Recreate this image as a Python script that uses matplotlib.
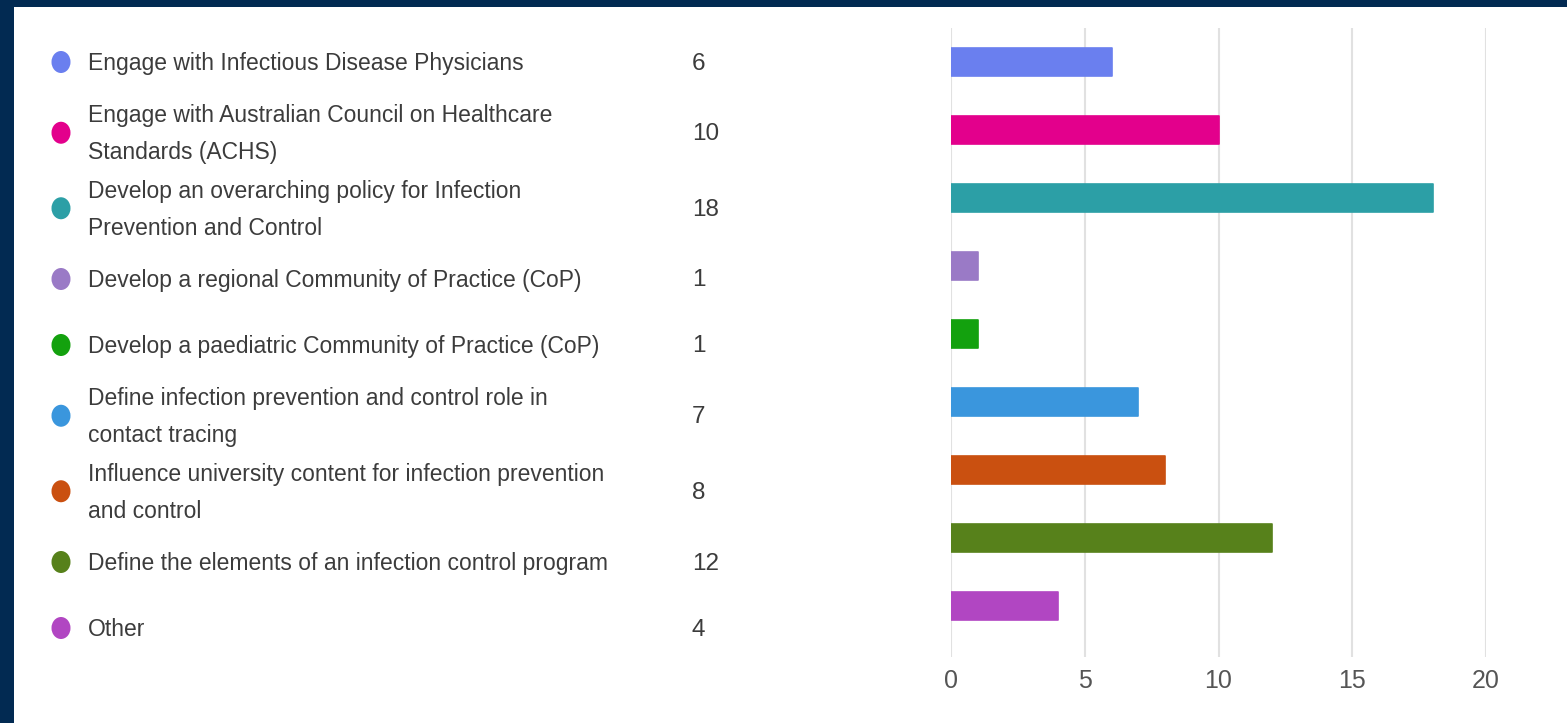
import matplotlib
matplotlib.use("Agg")
import matplotlib.pyplot as plt
from matplotlib import font_manager
from matplotlib.patches import Ellipse, Rectangle

categories = [
    "Engage with Infectious Disease Physicians",
    "Engage with Australian Council on Healthcare\nStandards (ACHS)",
    "Develop an overarching policy for Infection\nPrevention and Control",
    "Develop a regional Community of Practice (CoP)",
    "Develop a paediatric Community of Practice (CoP)",
    "Define infection prevention and control role in\ncontact tracing",
    "Influence university content for infection prevention\nand control",
    "Define the elements of an infection control program",
    "Other",
]
counts = [6, 10, 18, 1, 1, 7, 8, 12, 4]
colors = ["#6A7FEF", "#E3008C", "#2C9FA6", "#9A7AC6", "#13A10E",
          "#3A96DD", "#CA5010", "#57811B", "#B146C2"]
x_ticks = [0, 5, 10, 15, 20]

def pick_font(cands):
    for c in cands:
        try:
            font_manager.findfont(font_manager.FontProperties(family=c), fallback_to_default=False)
            return c
        except Exception:
            pass
    return "DejaVu Sans"

FONT = pick_font(["Liberation Sans Narrow", "Liberation Sans", "Open Sans"])
plt.rcParams["font.family"] = [FONT, "DejaVu Sans"]
LABEL_SIZE = 18 if "Narrow" in FONT else 16.5

W, H = 1567, 723
fig = plt.figure(figsize=(W / 100, H / 100), dpi=100)
fig.patch.set_facecolor("#022A52")

bg = fig.add_axes([0, 0, 1, 1])
bg.set_xlim(0, W)
bg.set_ylim(H, 0)
bg.axis("off")
bg.add_patch(Rectangle((14, 7), W - 14, H - 7, facecolor="white", edgecolor="none", zorder=0))

left_px, right_px, top_px, bot_px = 951, 1486, 28, 657
ax = fig.add_axes([left_px / W, 1 - bot_px / H, (right_px - left_px) / W, (bot_px - top_px) / H])
ax.set_facecolor("none")
n = len(counts)
ypos = list(range(n))
ax.barh(ypos, counts, height=0.42, color=colors, edgecolor=colors, linewidth=1.2,
        joinstyle="round", zorder=3)
ax.set_xlim(0, 20)
ax.set_ylim(n - 0.25, -0.5)
ax.set_xticks(x_ticks)
ax.set_xticklabels([str(t) for t in x_ticks])
ax.set_yticks([])
for s in ax.spines.values():
    s.set_visible(False)
ax.grid(axis="x", color="#E1E1E1", linewidth=1.5, zorder=0)
ax.tick_params(axis="x", length=0, pad=9, labelsize=18, labelcolor="#555555")

y = 62.0
prev_lines = None
for lab, val, col in zip(categories, counts, colors):
    nl = lab.count("\n") + 1
    if prev_lines is not None:
        y += 66 + 4.75 * ((prev_lines - 1) + (nl - 1))
    bg.add_patch(Ellipse((61, y), 19, 22, facecolor=col, edgecolor="none", zorder=2))
    lines = lab.split("\n")
    for j, ln in enumerate(lines):
        off = (j - (len(lines) - 1) / 2) * 37
        bg.text(88, y + off + 1.5, ln, ha="left", va="center", fontsize=LABEL_SIZE, color="#3C3C3C")
    bg.text(692, y + 1.5, str(val), ha="left", va="center", fontsize=17.5, color="#3C3C3C")
    prev_lines = nl

fig.savefig("out.png", dpi=100, facecolor=fig.get_facecolor())
